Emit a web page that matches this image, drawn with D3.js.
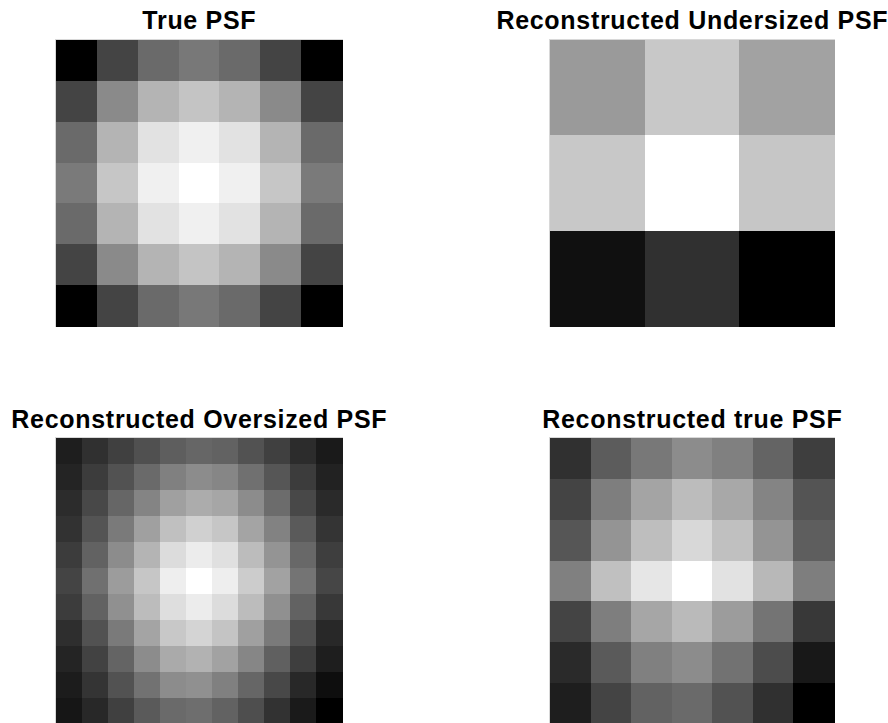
<!DOCTYPE html>
<html>
<head>
<meta charset="utf-8">
<script src="https://cdn.jsdelivr.net/npm/d3@7/dist/d3.min.js"></script>
<style>
  html, body { margin: 0; padding: 0; background: #ffffff; }
  svg { display: block; }
</style>
</head>
<body>
<svg id="chart" width="888" height="723"></svg>
<script>
// Panel titles
const titles = [
  "True PSF",
  "Reconstructed Undersized PSF",
  "Reconstructed Oversized PSF",
  "Reconstructed true PSF"
];

// Intensity matrices (relative intensity, 0..255)
const truePSF = [
  [0x00, 0x44, 0x6a, 0x78, 0x6a, 0x44, 0x00],
  [0x44, 0x8a, 0xb4, 0xc4, 0xb4, 0x8a, 0x44],
  [0x6a, 0xb4, 0xe2, 0xf0, 0xe2, 0xb4, 0x6a],
  [0x7a, 0xc6, 0xf0, 0xff, 0xf0, 0xc6, 0x7a],
  [0x6a, 0xb4, 0xe2, 0xf0, 0xe2, 0xb4, 0x6a],
  [0x44, 0x8a, 0xb4, 0xc4, 0xb4, 0x8a, 0x44],
  [0x00, 0x44, 0x6a, 0x78, 0x6a, 0x44, 0x00]
];

const underPSF = [
  [0x9a, 0xc8, 0xa2],
  [0xc8, 0xff, 0xc6],
  [0x10, 0x30, 0x00]
];

const overPSF = [
  [0x1e, 0x30, 0x40, 0x50, 0x5e, 0x66, 0x62, 0x52, 0x40, 0x2c, 0x1a],
  [0x24, 0x3c, 0x52, 0x6a, 0x80, 0x8c, 0x86, 0x70, 0x56, 0x3c, 0x22],
  [0x2c, 0x48, 0x66, 0x84, 0xa0, 0xac, 0xa6, 0x8c, 0x6c, 0x48, 0x2a],
  [0x32, 0x54, 0x7a, 0xa0, 0xc0, 0xd0, 0xc6, 0xa4, 0x82, 0x5a, 0x34],
  [0x3c, 0x62, 0x8c, 0xb4, 0xdc, 0xec, 0xe0, 0xbc, 0x94, 0x68, 0x3e],
  [0x44, 0x70, 0x9c, 0xc6, 0xee, 0xff, 0xee, 0xcc, 0xa2, 0x74, 0x46],
  [0x3c, 0x62, 0x90, 0xbc, 0xde, 0xec, 0xdc, 0xbc, 0x90, 0x62, 0x38],
  [0x2e, 0x52, 0x7a, 0xa4, 0xc8, 0xd4, 0xc4, 0xa0, 0x7a, 0x50, 0x28],
  [0x24, 0x42, 0x64, 0x8c, 0xaa, 0xb2, 0xa2, 0x86, 0x60, 0x3e, 0x1e],
  [0x1c, 0x34, 0x52, 0x72, 0x8c, 0x90, 0x80, 0x66, 0x48, 0x28, 0x0e],
  [0x16, 0x28, 0x40, 0x5a, 0x6a, 0x6e, 0x62, 0x4e, 0x32, 0x1a, 0x00]
];

const reconTruePSF = [
  [0x30, 0x5c, 0x78, 0x8c, 0x80, 0x64, 0x3e],
  [0x44, 0x7e, 0xa4, 0xbc, 0xa8, 0x84, 0x54],
  [0x56, 0x94, 0xbe, 0xd8, 0xc0, 0x94, 0x5e],
  [0x80, 0xc0, 0xe6, 0xff, 0xe2, 0xb8, 0x7e],
  [0x44, 0x7e, 0xa6, 0xba, 0x9c, 0x74, 0x38],
  [0x2a, 0x5a, 0x80, 0x8c, 0x72, 0x4c, 0x18],
  [0x1e, 0x44, 0x62, 0x6a, 0x52, 0x30, 0x00]
];

const matrices = [truePSF, underPSF, overPSF, reconTruePSF];

// Layout
const panels = [
  { x: 56,  y: 40,  w: 286, h: 286, tx: 199, ty: 29 },
  { x: 550, y: 40,  w: 284, h: 286, tx: 692, ty: 29 },
  { x: 56,  y: 438, w: 286, h: 286, tx: 199, ty: 428 },
  { x: 550, y: 438, w: 284, h: 286, tx: 692, ty: 428 }
];

const svg = d3.select("#chart");

matrices.forEach((m, i) => {
  const p = panels[i];
  const n = m.length;
  const idx = d3.range(n);
  const xs = d3.scaleBand().domain(idx).range([p.x, p.x + p.w]).paddingInner(0).paddingOuter(0);
  const ys = d3.scaleBand().domain(idx).range([p.y, p.y + p.h]).paddingInner(0).paddingOuter(0);
  const flat = m.flat();
  const gray = d3.scaleLinear().domain([d3.min(flat), d3.max(flat)]).range([0, 255]);

  const g = svg.append("g");

  // faint frame around image
  g.append("rect")
    .attr("x", p.x - 0.5).attr("y", p.y - 0.5)
    .attr("width", p.w + 1).attr("height", p.h + 1)
    .attr("fill", "none").attr("stroke", "#d8d8d8").attr("stroke-width", 1);

  const cells = [];
  m.forEach((row, r) => row.forEach((v, c) => cells.push({ r, c, v })));

  g.selectAll("rect.cell").data(cells).enter().append("rect")
    .attr("class", "cell")
    .attr("x", d => xs(d.c))
    .attr("y", d => ys(d.r))
    .attr("width", xs.bandwidth() + 0.5)
    .attr("height", ys.bandwidth() + 0.5)
    .attr("shape-rendering", "crispEdges")
    .attr("fill", d => { const k = Math.round(gray(d.v)); return d3.rgb(k, k, k).toString(); });

  svg.append("text")
    .attr("x", p.tx + 0.35).attr("y", p.ty)
    .attr("text-anchor", "middle")
    .attr("font-family", "'Liberation Sans', Arial, Helvetica, sans-serif")
    .attr("font-weight", "bold")
    .attr("font-size", 25)
    .attr("letter-spacing", "0.7px")
    .attr("fill", "#000")
    .text(titles[i]);
});
</script>
</body>
</html>
